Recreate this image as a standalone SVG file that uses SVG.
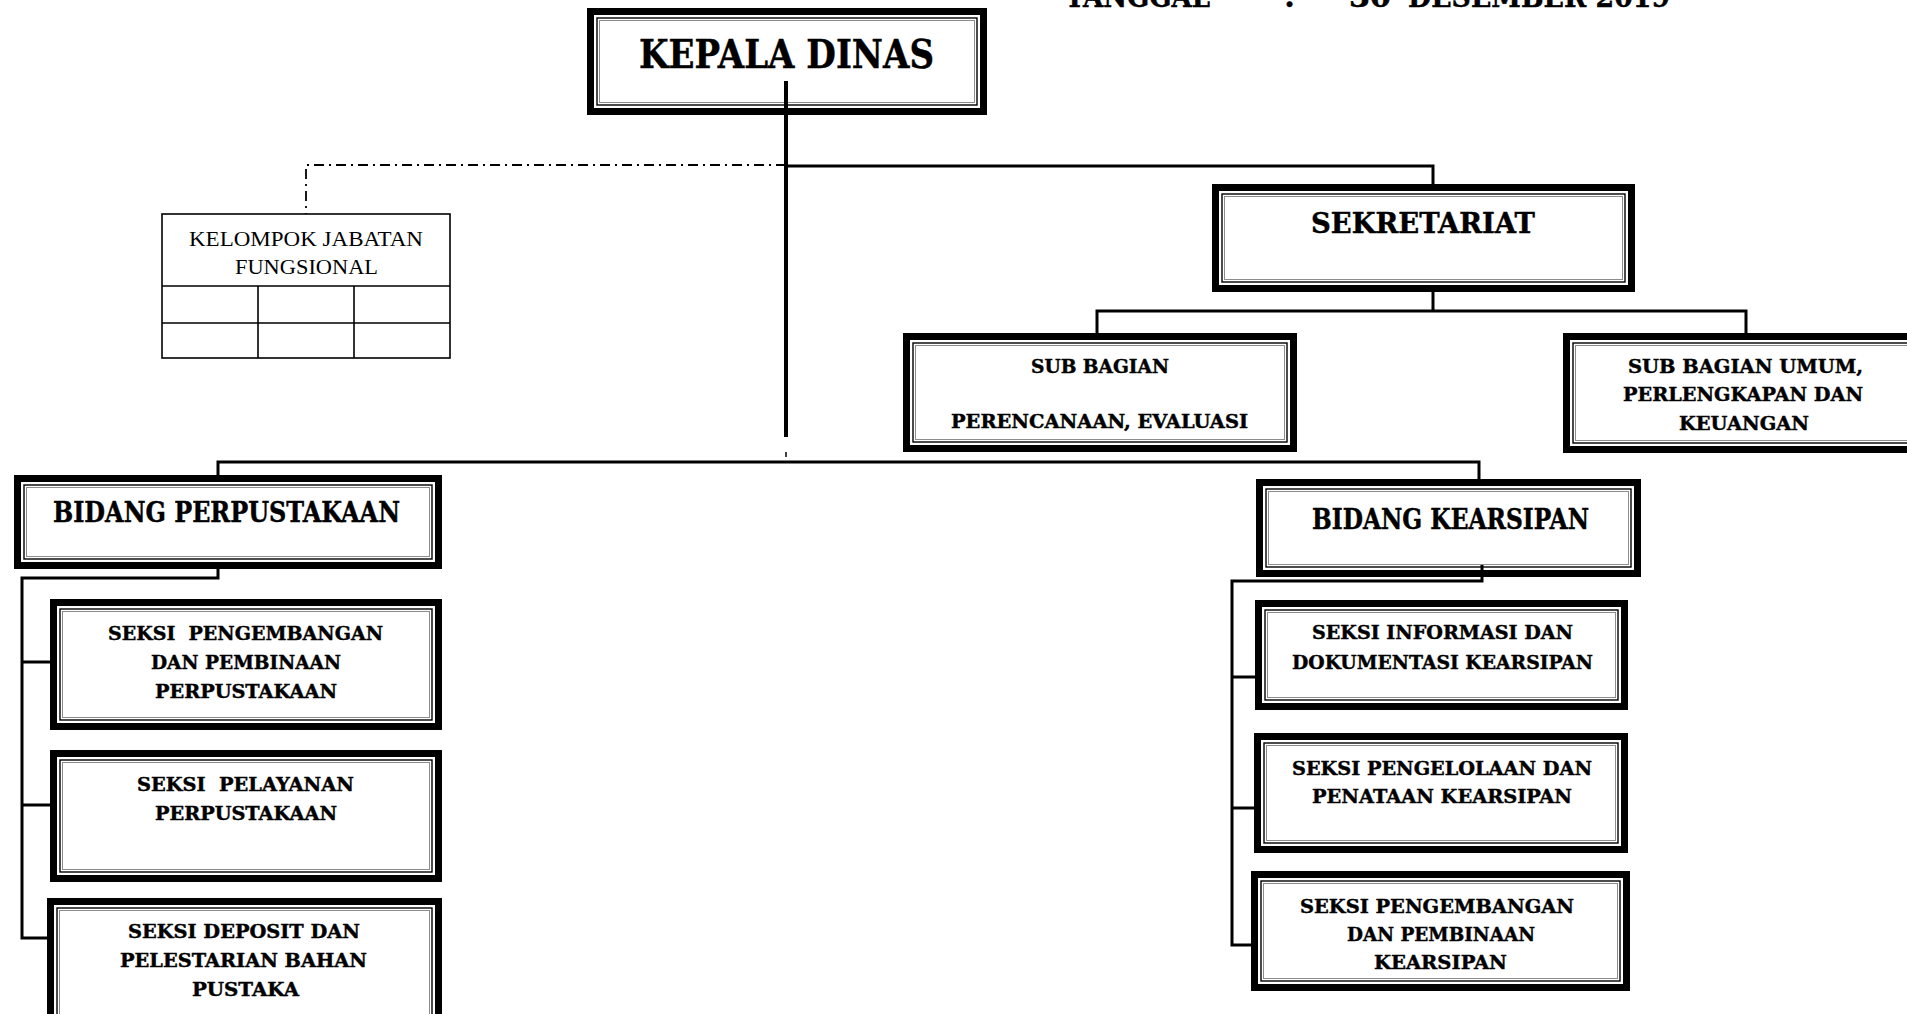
<svg xmlns="http://www.w3.org/2000/svg" width="1907" height="1014" viewBox="0 0 1907 1014">
<style>
.o{fill:#fff;stroke:#000;stroke-width:7}
.i1{fill:none;stroke:#000;stroke-width:1.4}
.i2{fill:none;stroke:#8c8c8c;stroke-width:1}
.t{font-family:"DejaVu Serif","Liberation Serif",serif;font-weight:bold;fill:#000;stroke:#000;stroke-width:0.45}
.s{font-size:19px}
.b{font-size:27px}
.r{font-family:"Liberation Serif","DejaVu Serif",serif;font-size:21px;fill:#000}
.c{fill:none;stroke:#000;stroke-width:3}
.g{fill:none;stroke:#000;stroke-width:1.6}
</style>
<rect x="0" y="0" width="1907" height="1014" fill="#fff"/>
<text class="t" style="font-size:30px" y="7"><tspan x="1065" textLength="145" lengthAdjust="spacingAndGlyphs">TANGGAL</tspan><tspan x="1284">:</tspan><tspan x="1349" textLength="42" lengthAdjust="spacingAndGlyphs">30</tspan><tspan x="1408" textLength="262" lengthAdjust="spacingAndGlyphs">DESEMBER 2019</tspan></text>

<g id="kepala-dinas">
<rect class="o" x="590.5" y="11.5" width="393" height="100"/>
<rect class="i1" x="597" y="18" width="380" height="87"/>
<rect class="i2" x="599.5" y="20.5" width="375" height="82"/>
<text class="t" style="font-size:39px" x="639" y="68" textLength="295" lengthAdjust="spacingAndGlyphs">KEPALA DINAS</text>
</g>

<g id="kelompok-jabatan-fungsional">
<rect x="162" y="214" width="288" height="144" fill="#fff" stroke="#000" stroke-width="1.6"/>
<path class="g" d="M162,286 H450 M162,323 H450 M258,286 V358 M354,286 V358"/>
<text class="r" x="189" y="246" textLength="234" lengthAdjust="spacingAndGlyphs">KELOMPOK JABATAN</text>
<text class="r" x="235" y="274" textLength="143" lengthAdjust="spacingAndGlyphs">FUNGSIONAL</text>
</g>

<g id="sekretariat">
<rect class="o" x="1215.5" y="187.5" width="416" height="101"/>
<rect class="i1" x="1222" y="194" width="403" height="88"/>
<rect class="i2" x="1224.5" y="196.5" width="398" height="83"/>
<text class="t" style="font-size:28px" x="1311" y="233" textLength="224" lengthAdjust="spacingAndGlyphs">SEKRETARIAT</text>
</g>

<g id="sub-bagian-perencanaan">
<rect class="o" x="906.5" y="336.5" width="387" height="112"/>
<rect class="i1" x="913" y="343" width="374" height="99"/>
<rect class="i2" x="915.5" y="345.5" width="369" height="94"/>
<text class="t s" x="1031" y="373" textLength="138" lengthAdjust="spacingAndGlyphs">SUB BAGIAN</text>
<text class="t s" x="951" y="428" textLength="297" lengthAdjust="spacingAndGlyphs">PERENCANAAN, EVALUASI</text>
</g>

<g id="sub-bagian-umum">
<rect class="o" x="1566.5" y="336.5" width="360" height="113"/>
<rect class="i1" x="1573" y="343" width="347" height="100"/>
<rect class="i2" x="1575.5" y="345.5" width="342" height="95"/>
<text class="t s" x="1628" y="373" textLength="235" lengthAdjust="spacingAndGlyphs">SUB BAGIAN UMUM,</text>
<text class="t s" x="1623" y="401" textLength="240" lengthAdjust="spacingAndGlyphs">PERLENGKAPAN DAN</text>
<text class="t s" x="1679" y="430" textLength="130" lengthAdjust="spacingAndGlyphs">KEUANGAN</text>
</g>

<g id="bidang-perpustakaan">
<rect class="o" x="17.5" y="478.5" width="421" height="87"/>
<rect class="i1" x="24" y="485" width="408" height="74"/>
<rect class="i2" x="26.5" y="487.5" width="403" height="69"/>
<text class="t b" x="53" y="522" textLength="347" lengthAdjust="spacingAndGlyphs">BIDANG PERPUSTAKAAN</text>
</g>

<g id="bidang-kearsipan">
<rect class="o" x="1259.5" y="482.5" width="378" height="91"/>
<rect class="i1" x="1266" y="489" width="365" height="78"/>
<rect class="i2" x="1268.5" y="491.5" width="360" height="73"/>
<text class="t b" x="1312" y="529" textLength="277" lengthAdjust="spacingAndGlyphs">BIDANG KEARSIPAN</text>
</g>

<g id="seksi-pengembangan-perpustakaan">
<rect class="o" x="53.5" y="602.5" width="385" height="124"/>
<rect class="i1" x="60" y="609" width="372" height="111"/>
<rect class="i2" x="62.5" y="611.5" width="367" height="106"/>
<text class="t s" x="108" y="640" textLength="275" lengthAdjust="spacingAndGlyphs" xml:space="preserve">SEKSI  PENGEMBANGAN</text>
<text class="t s" x="151" y="669" textLength="190" lengthAdjust="spacingAndGlyphs">DAN PEMBINAAN</text>
<text class="t s" x="155" y="698" textLength="182" lengthAdjust="spacingAndGlyphs">PERPUSTAKAAN</text>
</g>

<g id="seksi-pelayanan">
<rect class="o" x="53.5" y="753.5" width="385" height="125"/>
<rect class="i1" x="60" y="760" width="372" height="112"/>
<rect class="i2" x="62.5" y="762.5" width="367" height="107"/>
<text class="t s" x="137" y="791" textLength="217" lengthAdjust="spacingAndGlyphs" xml:space="preserve">SEKSI  PELAYANAN</text>
<text class="t s" x="155" y="820" textLength="182" lengthAdjust="spacingAndGlyphs">PERPUSTAKAAN</text>
</g>

<g id="seksi-deposit">
<rect class="o" x="50.5" y="901.5" width="388" height="125"/>
<rect class="i1" x="57" y="908" width="375" height="112"/>
<rect class="i2" x="59.5" y="910.5" width="370" height="107"/>
<text class="t s" x="128" y="938" textLength="232" lengthAdjust="spacingAndGlyphs">SEKSI DEPOSIT DAN</text>
<text class="t s" x="120" y="967" textLength="247" lengthAdjust="spacingAndGlyphs">PELESTARIAN BAHAN</text>
<text class="t s" x="192" y="996" textLength="107" lengthAdjust="spacingAndGlyphs">PUSTAKA</text>
</g>

<g id="seksi-informasi">
<rect class="o" x="1258.5" y="603.5" width="366" height="103"/>
<rect class="i1" x="1265" y="610" width="353" height="90"/>
<rect class="i2" x="1267.5" y="612.5" width="348" height="85"/>
<text class="t s" x="1312" y="639" textLength="261" lengthAdjust="spacingAndGlyphs">SEKSI INFORMASI DAN</text>
<text class="t s" x="1292" y="669" textLength="301" lengthAdjust="spacingAndGlyphs">DOKUMENTASI KEARSIPAN</text>
</g>

<g id="seksi-pengelolaan">
<rect class="o" x="1257.5" y="736.5" width="367" height="113"/>
<rect class="i1" x="1264" y="743" width="354" height="100"/>
<rect class="i2" x="1266.5" y="745.5" width="349" height="95"/>
<text class="t s" x="1292" y="775" textLength="300" lengthAdjust="spacingAndGlyphs">SEKSI PENGELOLAAN DAN</text>
<text class="t s" x="1312" y="803" textLength="260" lengthAdjust="spacingAndGlyphs">PENATAAN KEARSIPAN</text>
</g>

<g id="seksi-pengembangan-kearsipan">
<rect class="o" x="1254.5" y="874.5" width="372" height="113"/>
<rect class="i1" x="1261" y="881" width="359" height="100"/>
<rect class="i2" x="1263.5" y="883.5" width="354" height="95"/>
<text class="t s" x="1300" y="913" textLength="274" lengthAdjust="spacingAndGlyphs">SEKSI PENGEMBANGAN</text>
<text class="t s" x="1347" y="941" textLength="188" lengthAdjust="spacingAndGlyphs">DAN PEMBINAAN</text>
<text class="t s" x="1374" y="969" textLength="133" lengthAdjust="spacingAndGlyphs">KEARSIPAN</text>
</g>

<g id="connectors">
<path d="M786,81 V437" fill="none" stroke="#000" stroke-width="4"/>
<path d="M786,452 V457" fill="none" stroke="#000" stroke-width="1.5"/>
<path d="M786,165 H306 V214" fill="none" stroke="#000" stroke-width="1.8" stroke-dasharray="10 5 2 5"/>
<path class="c" d="M786,166 H1433 V184"/>
<path class="c" d="M1433,292 V311"/>
<path class="c" d="M1097,333 V311 H1746 V333"/>
<path class="c" d="M218,475 V462 H1479 V479"/>
<path class="c" d="M218,569 V578 H22 V938 H47"/>
<path class="c" d="M22,662 H50 M22,805 H50"/>
<path class="c" d="M1482,565 V581 H1232 V945 H1251"/>
<path class="c" d="M1232,677 H1255 M1232,808 H1254"/>
</g>
</svg>
